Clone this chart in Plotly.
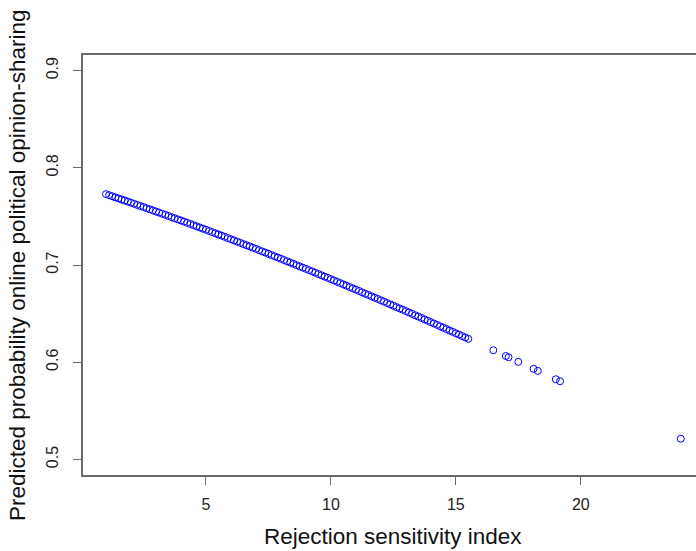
import plotly.graph_objects as go

# Rejection sensitivity index values
rs_index = [
    1.000, 1.125, 1.250, 1.375, 1.500, 1.625, 1.750, 1.875,
    2.000, 2.125, 2.250, 2.375, 2.500, 2.625, 2.750, 2.875,
    3.000, 3.125, 3.250, 3.375, 3.500, 3.625, 3.750, 3.875,
    4.000, 4.125, 4.250, 4.375, 4.500, 4.625, 4.750, 4.875,
    5.000, 5.125, 5.250, 5.375, 5.500, 5.625, 5.750, 5.875,
    6.000, 6.125, 6.250, 6.375, 6.500, 6.625, 6.750, 6.875,
    7.000, 7.125, 7.250, 7.375, 7.500, 7.625, 7.750, 7.875,
    8.000, 8.125, 8.250, 8.375, 8.500, 8.625, 8.750, 8.875,
    9.000, 9.125, 9.250, 9.375, 9.500, 9.625, 9.750, 9.875,
    10.000, 10.125, 10.250, 10.375, 10.500, 10.625, 10.750, 10.875,
    11.000, 11.125, 11.250, 11.375, 11.500, 11.625, 11.750, 11.875,
    12.000, 12.125, 12.250, 12.375, 12.500, 12.625, 12.750, 12.875,
    13.000, 13.125, 13.250, 13.375, 13.500, 13.625, 13.750, 13.875,
    14.000, 14.125, 14.250, 14.375, 14.500, 14.625, 14.750, 14.875,
    15.000, 15.125, 15.250, 15.375, 15.500,
    16.50, 17.00, 17.11, 17.50, 18.11, 18.28, 19.00, 19.17, 24.00,
]

# Predicted probability of online political opinion-sharing
pred_prob = [
    0.7729, 0.7718, 0.7707, 0.7696, 0.7685, 0.7674, 0.7663, 0.7652,
    0.7641, 0.7630, 0.7618, 0.7607, 0.7596, 0.7584, 0.7573, 0.7562,
    0.7550, 0.7539, 0.7527, 0.7516, 0.7504, 0.7492, 0.7481, 0.7469,
    0.7458, 0.7446, 0.7434, 0.7422, 0.7410, 0.7398, 0.7386, 0.7374,
    0.7363, 0.7350, 0.7338, 0.7326, 0.7314, 0.7302, 0.7290, 0.7277,
    0.7265, 0.7253, 0.7240, 0.7228, 0.7215, 0.7203, 0.7191, 0.7178,
    0.7166, 0.7153, 0.7140, 0.7128, 0.7115, 0.7102, 0.7090, 0.7077,
    0.7064, 0.7051, 0.7038, 0.7025, 0.7012, 0.6999, 0.6986, 0.6973,
    0.6960, 0.6947, 0.6934, 0.6921, 0.6907, 0.6894, 0.6881, 0.6868,
    0.6855, 0.6841, 0.6827, 0.6814, 0.6800, 0.6787, 0.6773, 0.6760,
    0.6747, 0.6733, 0.6719, 0.6705, 0.6692, 0.6678, 0.6664, 0.6651,
    0.6637, 0.6623, 0.6609, 0.6595, 0.6581, 0.6567, 0.6553, 0.6540,
    0.6526, 0.6511, 0.6497, 0.6483, 0.6469, 0.6455, 0.6441, 0.6426,
    0.6412, 0.6398, 0.6384, 0.6369, 0.6355, 0.6341, 0.6326, 0.6312,
    0.6298, 0.6284, 0.6269, 0.6255, 0.6240,
    0.6123, 0.6064, 0.6051, 0.6004, 0.5932, 0.5911, 0.5825, 0.5804, 0.5213,
]

x_ticks = [5, 10, 15, 20]
y_ticks = [0.5, 0.6, 0.7, 0.8, 0.9]

x_title = "Rejection sensitivity index"
y_title = "Predicted probability online political opinion-sharing"

FONT = "Liberation Sans, Arial, sans-serif"
LINE = "#6a6a6a"

fig = go.Figure()
fig.add_trace(go.Scatter(
    x=rs_index, y=pred_prob, mode="markers",
    marker=dict(symbol="circle-open", size=7, color="#0000ff",
                line=dict(width=1, color="#0000ff")),
    hoverinfo="skip", showlegend=False,
))

fig.update_layout(
    width=696, height=551,
    margin=dict(l=83, r=0, t=55, b=76, pad=0),
    paper_bgcolor="white", plot_bgcolor="white",
    font=dict(family=FONT, color="#222222"),
    xaxis=dict(
        range=[0.08, 24.61], tickvals=x_ticks, ticktext=[str(v) for v in x_ticks],
        showgrid=False, zeroline=False, showline=True, mirror=True,
        linecolor=LINE, linewidth=1.5, ticks="outside", ticklen=8,
        tickwidth=1.3, tickcolor=LINE, tickfont=dict(size=16, family=FONT, color="#222222"),
        ticklabelstandoff=6, automargin=False,
    ),
    yaxis=dict(
        range=[0.484, 0.916], tickvals=y_ticks, ticktext=[f"{v:.1f}" for v in y_ticks],
        showgrid=False, zeroline=False, showline=True, mirror=False,
        linecolor=LINE, linewidth=1.5, ticks="outside", ticklen=8,
        tickwidth=1.3, tickcolor=LINE, tickangle=-90,
        tickfont=dict(size=16, family=FONT, color="#222222"),
        ticklabelstandoff=9, automargin=False,
    ),
    annotations=[
        dict(text=x_title, xref="paper", yref="paper", x=0.5057, y=-0.146,
             xanchor="center", yanchor="middle", showarrow=False,
             font=dict(size=22.5, family=FONT, color="#111111")),
        dict(text=y_title, xref="paper", yref="paper", x=-0.1077, y=0.5,
             xanchor="center", yanchor="middle", textangle=-90, showarrow=False,
             font=dict(size=22.5, family=FONT, color="#111111")),
    ],
)

fig.write_html("out.html", config={"displayModeBar": False})
